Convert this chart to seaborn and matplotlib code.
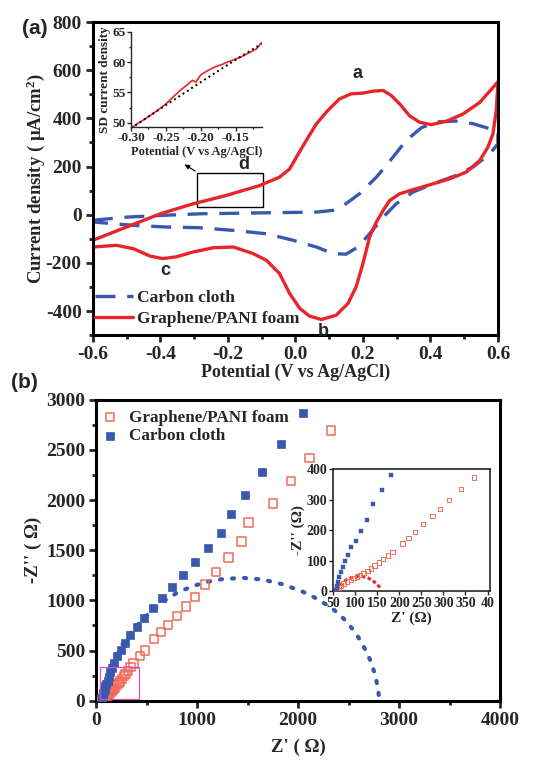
import numpy as np
import pandas as pd
import seaborn as sns
import matplotlib.pyplot as plt
from matplotlib.ticker import MultipleLocator
from matplotlib.patches import Rectangle

# ---- (a) cyclic voltammetry ----
pot_up = [-0.600, -0.500, -0.400, -0.304, -0.205, -0.106, -0.047, -0.017, 0.003, 0.032,
          0.062, 0.096, 0.131, 0.165, 0.200, 0.230, 0.260, 0.284, 0.309, 0.338, 0.368,
          0.402, 0.447, 0.496, 0.546, 0.600]
gp_up = [-106, -51, 4, 45, 80, 121, 156, 190, 239, 308,
         377, 433, 481, 502, 505, 513, 516, 495, 460, 411, 384,
         374, 388, 418, 466, 552]
pot_dn = [0.600, 0.595, 0.585, 0.570, 0.546, 0.506, 0.457, 0.407, 0.358, 0.309, 0.279,
          0.260, 0.240, 0.220, 0.200, 0.180, 0.156, 0.121, 0.077, 0.042, 0.013, -0.017,
          -0.047, -0.086, -0.126, -0.184, -0.243, -0.304, -0.353, -0.393, -0.430, -0.480,
          -0.530, -0.600]
gp_dn = [552, 432, 335, 280, 225, 177, 149, 128, 108, 87, 59,
         18, -30, -92, -203, -299, -368, -417, -435, -421, -389, -327,
         -244, -189, -161, -134, -137, -155, -175, -182, -172, -141,
         -127, -134]
cc_up_pot = [-0.600, -0.500, -0.400, -0.280, -0.086, 0.062, 0.111, 0.150, 0.190, 0.240,
             0.289, 0.328, 0.373, 0.417, 0.476, 0.526, 0.576, 0.600]
cc_up = [-23, -10, -3, 4, 8, 11, 18, 46, 87, 156, 239, 308, 361, 385, 389, 378, 357, 343]
cc_dn_pot = [0.600, 0.576, 0.526, 0.476, 0.407, 0.348, 0.299, 0.260, 0.220, 0.185, 0.150,
             0.111, 0.062, -0.007, -0.086, -0.184, -0.284, -0.383, -0.481, -0.600]
cc_dn = [294, 253, 198, 163, 128, 94, 46, -10, -79, -134, -164,
         -161, -134, -106, -79, -65, -54, -51, -44, -30]

# inset (a): zoom of region d
ins_pot = [-0.300, -0.290, -0.280, -0.270, -0.260, -0.250, -0.240, -0.230, -0.220, -0.212,
           -0.207, -0.200, -0.190, -0.180, -0.170, -0.160, -0.150, -0.140, -0.130, -0.120, -0.113]
ins_sd = [49.1, 49.9, 50.6, 51.4, 52.2, 53.1, 54.2, 55.3, 56.2, 57.0,
          56.7, 57.9, 58.6, 59.2, 59.6, 60.1, 60.5, 61.0, 61.6, 62.2, 63.2]
fit_pot = [-0.300, -0.250, -0.200, -0.150, -0.113]
fit_sd = [49.1, 52.9, 56.7, 60.4, 63.0]

# ---- (b) Nyquist ----
gp_zr = [59, 63, 68, 74, 82, 90, 96, 104, 111, 119, 128, 136, 144, 154, 163, 175, 185, 207,
         221, 236, 254, 275, 292, 313, 340, 369, 436, 482, 574, 640, 710, 802, 891, 977,
         1076, 1188, 1310, 1439, 1508, 1749, 1930, 2112, 2326]
gp_zi = [5, 12, 19, 25, 32, 37, 43, 48, 54, 60, 67, 75, 84, 94, 105, 117, 128, 156,
         174, 193, 219, 247, 269, 299, 334, 372, 449, 502, 618, 688, 754, 847, 940, 1034,
         1157, 1286, 1426, 1588, 1778, 1967, 2190, 2420, 2692]
cc_zr = [56, 58, 61, 64, 69, 73, 78, 84, 91, 101, 113, 126, 141, 160, 182, 205, 244, 290,
         340, 403, 475, 561, 653, 752, 861, 983, 1109, 1234, 1333, 1478, 1640, 1832, 2053]
cc_zi = [3, 16, 31, 47, 63, 80, 99, 118, 145, 165, 198, 233, 285, 331, 380, 442, 505, 575,
         651, 734, 824, 920, 1024, 1137, 1249, 1379, 1519, 1668, 1861, 2051, 2280, 2562, 2868]
cc_fit_zr = [60, 80, 120, 180, 260, 360, 480, 650, 800, 950, 1100, 1250, 1450, 1650, 1850,
             2050, 2200, 2350, 2480, 2580, 2660, 2720, 2765, 2790, 2805]
cc_fit_zi = [0, 120, 260, 410, 560, 700, 830, 980, 1075, 1140, 1185, 1212, 1225, 1208, 1160,
             1085, 1010, 910, 790, 660, 520, 390, 250, 120, 0]
gp_fit_zr = [60, 65, 72, 80, 90, 100, 110, 120, 130, 140, 150, 158]
gp_fit_zi = [0, 15, 28, 38, 44, 47, 48, 47, 43, 35, 22, 10]

RED = '#e8262a'
BLUE = '#3a58b0'
SALMON = '#f26b57'
sns.set_style('ticks')
plt.rcParams['font.family'] = ['Liberation Serif', 'DejaVu Serif']
plt.rcParams['font.weight'] = 'bold'
plt.rcParams['axes.labelweight'] = 'bold'
plt.rcParams['mathtext.default'] = 'regular'


def style_axes(ax, lw=2.2, size=14):
    for s in ax.spines.values():
        s.set_linewidth(lw)
        s.set_color('black')
    ax.tick_params(which='major', direction='out', length=5, width=2, labelsize=size,
                   top=False, right=False, pad=3)
    ax.tick_params(which='minor', direction='out', length=3, width=2, top=False, right=False)
    for lab in ax.get_xticklabels() + ax.get_yticklabels():
        lab.set_fontweight('bold')


fig = plt.figure(figsize=(5.46, 7.6), dpi=100)
ax1 = fig.add_axes([0.170, 0.559, 0.742, 0.412])

cv_gp = pd.DataFrame({'pot': pot_up + pot_dn, 'j': gp_up + gp_dn})
cv_cc = pd.DataFrame({'pot': cc_up_pot + cc_dn_pot, 'j': cc_up + cc_dn})
sns.lineplot(cv_cc, x='pot', y='j', sort=False, estimator=None, ax=ax1, color=BLUE,
             lw=2.4, label='Carbon cloth')
ax1.lines[-1].set_dashes([6, 3.5])
sns.lineplot(cv_gp, x='pot', y='j', sort=False, estimator=None, ax=ax1, color=RED,
             lw=2.4, label='Graphene/PANI foam')
for ln in ax1.lines:
    ln.set_solid_joinstyle('round')
    ln.set_dash_joinstyle('round')
ax1.set_xlim(-0.6, 0.6)
ax1.set_ylim(-500, 800)
ax1.xaxis.set_minor_locator(MultipleLocator(0.1))
ax1.yaxis.set_minor_locator(MultipleLocator(100))
ax1.set_xticks(np.arange(-0.6, 0.61, 0.2))
ax1.set_xticklabels(['-0.6', '-0.4', '-0.2', '0.0', '0.2', '0.4', '0.6'])
ax1.set_yticks(np.arange(-400, 801, 200))
ax1.set_yticklabels(['-400', '-200', '0', '200', '400', '600', '800'])
ax1.set_xlabel('Potential (V vs Ag/AgCl)', fontsize=13, fontweight='bold', labelpad=0)
ax1.set_ylabel('Current density ( \u03bcA/cm$^{2}$)', fontsize=13.5, fontweight='bold')
ax1.yaxis.set_label_coords(-0.112, 0.5)
style_axes(ax1)
ax1.legend(loc='lower left', frameon=False, prop={'size': 12.5, 'weight': 'bold'},
           handlelength=2.2, handletextpad=0.2, borderaxespad=0.0, labelspacing=0.25,
           bbox_to_anchor=(-0.012, 0.005))
ax1.text(0.17, 567, 'a', fontsize=13, fontweight='bold', family='Liberation Sans')
ax1.text(0.065, -505, 'b', fontsize=13, fontweight='bold', family='Liberation Sans')
ax1.text(-0.40, -250, 'c', fontsize=13, fontweight='bold', family='Liberation Sans')
ax1.text(-0.17, 188, 'd', fontsize=13, fontweight='bold', family='Liberation Sans')
ax1.add_patch(Rectangle((-0.29, 33), 0.193, 142, fill=False, lw=1, ec='black'))
ax1.annotate('', xy=(-0.335, 215), xytext=(-0.29, 175),
             arrowprops=dict(arrowstyle='-|>', lw=0.8, color='black', mutation_scale=7))
fig.text(0.04, 0.955, '(a)', fontsize=15, fontweight='bold', family='Liberation Sans')

# inset (a)
axi = fig.add_axes([0.240, 0.833, 0.240, 0.125])
sns.lineplot(x=ins_pot, y=ins_sd, ax=axi, color=RED, lw=1.2, sort=False, estimator=None)
sns.lineplot(x=fit_pot, y=fit_sd, ax=axi, color='black', lw=1.4, ls=':', sort=False,
             estimator=None)
axi.set_xlim(-0.30, -0.112)
axi.set_ylim(49.3, 65)
axi.set_xticks([-0.30, -0.25, -0.20, -0.15])
axi.set_xticklabels(['-0.30', '-0.25', '-0.20', '-0.15'])
axi.set_yticks([50, 55, 60, 65])
axi.xaxis.set_minor_locator(MultipleLocator(0.025))
axi.yaxis.set_minor_locator(MultipleLocator(2.5))
axi.set_xlabel('Potential (V vs Ag/AgCl)', fontsize=9, fontweight='bold', labelpad=1)
axi.set_ylabel('SD current density', fontsize=9.5, fontweight='bold', labelpad=1)
for k in ['top', 'right']:
    axi.spines[k].set_visible(False)
axi.tick_params(which='major', length=3, width=1, labelsize=9.5, pad=1)
axi.tick_params(which='minor', length=1.5, width=1)
for s in ['left', 'bottom']:
    axi.spines[s].set_linewidth(1)
for lab in axi.get_xticklabels() + axi.get_yticklabels():
    lab.set_fontweight('bold')
axi.patch.set_alpha(0)

# ---- (b) ----
ax2 = fig.add_axes([0.176, 0.078, 0.740, 0.396])
sns.scatterplot(x=gp_zr, y=gp_zi, ax=ax2, marker='s', s=36, facecolor='none',
                edgecolor=SALMON, linewidth=1.1, label='Graphene/PANI foam', zorder=3)
sns.scatterplot(x=cc_zr, y=cc_zi, ax=ax2, marker='s', s=36, color=BLUE, edgecolor=BLUE,
                linewidth=0.5, label='Carbon cloth', zorder=3)
sns.lineplot(x=cc_fit_zr, y=cc_fit_zi, ax=ax2, color=BLUE, lw=3, sort=False, estimator=None)
ax2.lines[-1].set_dashes([0.5, 2.4])
ax2.lines[-1].set_dash_capstyle('round')
ax2.add_patch(Rectangle((40, 15), 380, 325, fill=False, lw=0.9, ec='#d850b8', zorder=4))
ax2.set_xlim(0, 4000)
ax2.set_ylim(0, 3000)
ax2.xaxis.set_major_locator(MultipleLocator(1000))
ax2.xaxis.set_minor_locator(MultipleLocator(500))
ax2.yaxis.set_major_locator(MultipleLocator(500))
ax2.yaxis.set_minor_locator(MultipleLocator(250))
ax2.set_xlabel("Z' ( \u03a9)", fontsize=13.5, fontweight='bold', labelpad=7)
ax2.set_ylabel("-Z'' ( \u03a9)", fontsize=13.5, fontweight='bold')
ax2.yaxis.set_label_coords(-0.133, 0.5)
style_axes(ax2)
ax2.legend(loc='upper left', frameon=False, prop={'size': 12.3, 'weight': 'bold'},
           handletextpad=0.1, borderaxespad=0.0, labelspacing=0.15,
           bbox_to_anchor=(-0.025, 0.99))
fig.text(0.02, 0.490, '(b)', fontsize=15, fontweight='bold', family='Liberation Sans')

# inset (b)
axn = fig.add_axes([0.610, 0.222, 0.287, 0.161])
sns.scatterplot(x=gp_zr, y=gp_zi, ax=axn, marker='s', s=10, facecolor='none',
                edgecolor=SALMON, linewidth=0.7, zorder=3)
sns.scatterplot(x=cc_zr, y=cc_zi, ax=axn, marker='s', s=8, color=BLUE, edgecolor=BLUE,
                linewidth=0.3, zorder=3)
sns.lineplot(x=gp_fit_zr, y=gp_fit_zi, ax=axn, color=RED, lw=2.2, sort=False, estimator=None)
axn.lines[-1].set_dashes([1.2, 0.8])
axn.set_xlim(50, 405)
axn.set_ylim(0, 400)
axn.set_xticks([50, 100, 150, 200, 250, 300, 350, 400])
axn.set_xticklabels(['50', '100', '150', '200', '250', '300', '350', '40'])
axn.set_yticks([0, 100, 200, 300, 400])
axn.set_xlabel("Z' (\u03a9)", fontsize=11, fontweight='bold', labelpad=1)
axn.set_ylabel("-Z'' (\u03a9)", fontsize=11, fontweight='bold', labelpad=1)
for s in axn.spines.values():
    s.set_linewidth(1.2)
axn.tick_params(which='major', direction='out', length=3, width=1, labelsize=10, pad=1)
for lab in axn.get_xticklabels() + axn.get_yticklabels():
    lab.set_fontweight('bold')

fig.savefig('out.png', dpi=100)
